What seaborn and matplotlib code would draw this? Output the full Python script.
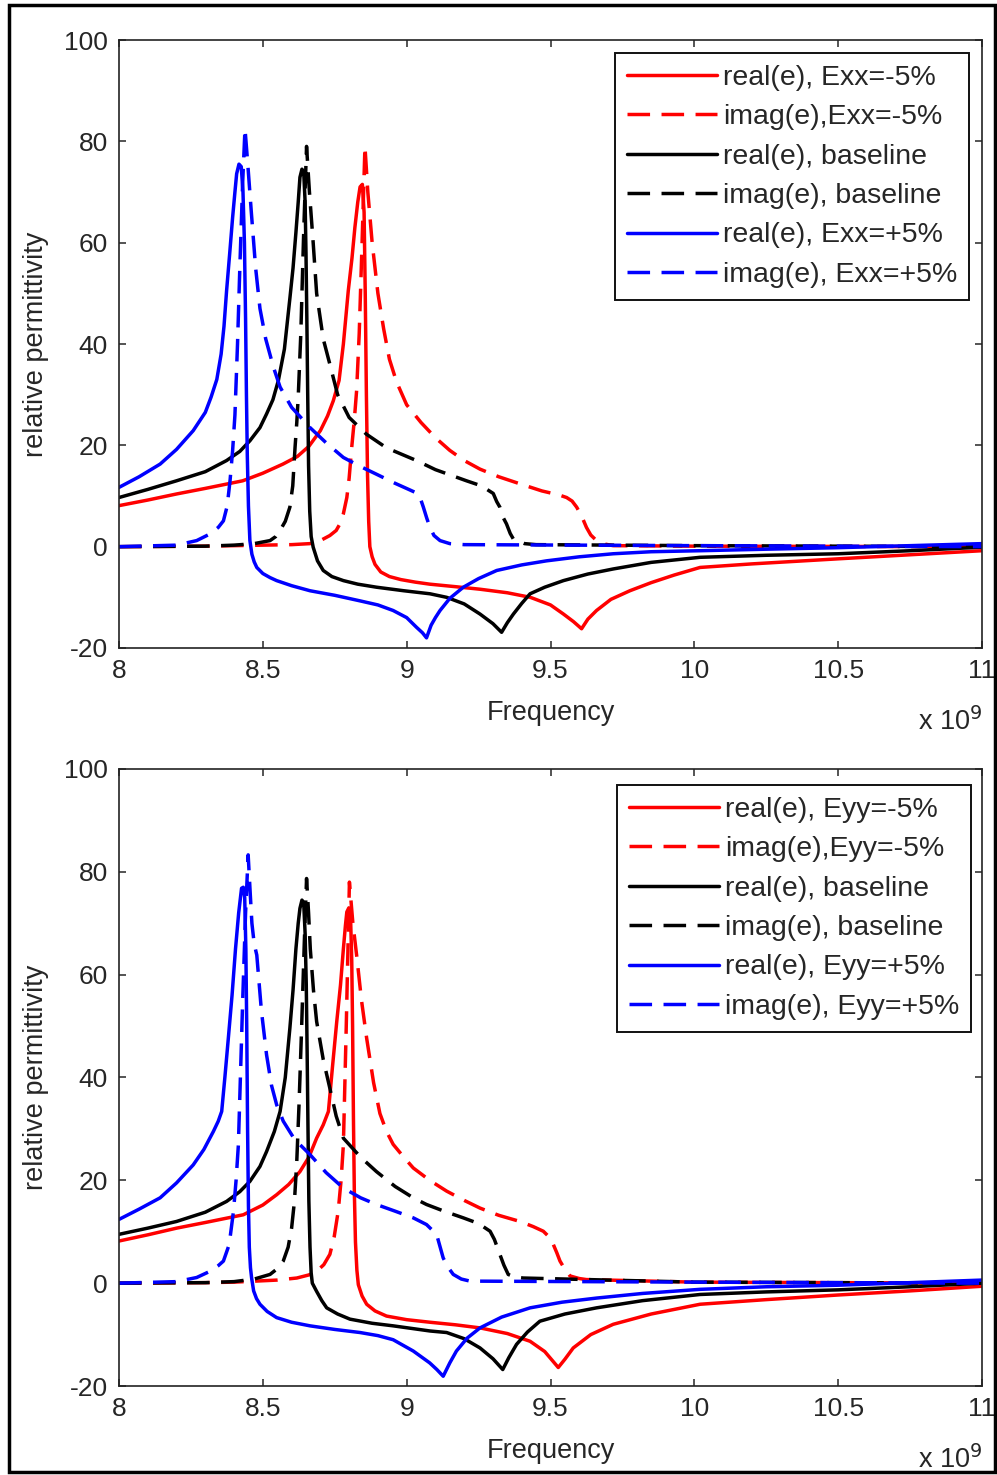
import matplotlib
matplotlib.use("Agg")
import matplotlib.pyplot as plt
import seaborn as sns
from matplotlib.patches import Rectangle

# ---------------- data (frequency in GHz, axis shows x 10^9 Hz) ----------------
# Top panel: Exx strain
exx_m5_real_f = [8.0, 8.1, 8.2, 8.3, 8.43, 8.5, 8.57, 8.62, 8.66, 8.70, 8.725, 8.745, 8.765, 8.78, 8.797, 8.81,
                 8.82, 8.83, 8.838, 8.846, 8.852, 8.856, 8.860, 8.864, 8.868, 8.872, 8.88, 8.89, 8.91, 8.94, 8.98,
                 9.03, 9.08, 9.17, 9.255, 9.35, 9.43, 9.5, 9.545, 9.58, 9.608, 9.63, 9.66, 9.71, 9.776, 9.85,
                 9.93, 10.02, 10.2, 10.5, 10.75, 11.0]
exx_m5_real_v = [8.1, 9.2, 10.4, 11.5, 13, 14.5, 16.3, 17.8, 19.8, 22.9, 25.8, 28.8, 32.8, 40, 50.5, 57,
                 63, 68, 71, 71.5, 66, 50, 30, 14, 5, 0, -2, -3.5, -5, -5.9, -6.5,
                 -7, -7.4, -7.9, -8.4, -9.1, -10, -11.5, -13.3, -14.8, -16.2, -14.3, -12.6, -10.4, -8.7, -7.1,
                 -5.6, -4.1, -3.4, -2.4, -1.6, -0.8]
exx_m5_imag_f = [8.0, 8.3, 8.5, 8.6, 8.664, 8.70, 8.733, 8.755, 8.768, 8.78, 8.792, 8.80, 8.809, 8.818, 8.826,
                 8.835, 8.845, 8.855, 8.865, 8.88, 8.9, 8.92, 8.94, 8.965, 9.0, 9.05, 9.1, 9.15, 9.2, 9.255,
                 9.32, 9.394, 9.47, 9.53, 9.556, 9.575, 9.591, 9.61, 9.625, 9.64, 9.66, 9.69, 9.718, 10.0,
                 10.5, 11.0]
exx_m5_imag_v = [0, 0.1, 0.3, 0.4, 0.6, 1.2, 2.2, 3.2, 4.5, 6.5, 9.7, 13.5, 19.6, 25, 30.8,
                 42, 60, 79, 70, 60, 50, 43, 37, 32.5, 28, 24.5, 21.5, 19, 17, 15.3,
                 13.8, 12.4, 11, 10.2, 9.7, 9, 7.8, 5.8, 3.8, 2.3, 1.2, 0.5, 0.2, 0.1,
                 0.05, 0]

exx_0_real_f = [8.0, 8.1, 8.2, 8.3, 8.374, 8.42, 8.455, 8.49, 8.513, 8.535, 8.554, 8.575, 8.594, 8.605, 8.615,
                8.623, 8.629, 8.636, 8.642, 8.647, 8.650, 8.653, 8.656, 8.659, 8.663, 8.668, 8.675, 8.69, 8.71,
                8.74, 8.78, 8.83, 8.895, 8.99, 9.081, 9.139, 9.2, 9.255, 9.3, 9.33, 9.35, 9.371, 9.4, 9.429,
                9.48, 9.545, 9.63, 9.718, 9.85, 10.02, 10.25, 10.5, 10.75, 11.0]
exx_0_real_v = [9.7, 11.3, 13, 14.8, 17, 18.8, 20.9, 23.5, 26.2, 29, 32.8, 39, 49, 55, 62,
                68, 72.9, 74.5, 74, 68, 58, 45, 30, 16, 7, 2, -0.1, -2.8, -4.7,
                -5.9, -6.7, -7.4, -8, -8.7, -9.3, -10, -11.3, -13.3, -15.2, -16.9, -15, -13.3, -11.2, -9.3,
                -8, -6.7, -5.4, -4.4, -3.1, -2.1, -1.7, -1.4, -0.8, -0.1]
exx_0_imag_f = [8.0, 8.3, 8.4, 8.47, 8.525, 8.545, 8.56, 8.578, 8.594, 8.604, 8.612, 8.618, 8.623, 8.632, 8.642,
                8.652, 8.662, 8.675, 8.687, 8.71, 8.733, 8.76, 8.8, 8.86, 8.93, 9.034, 9.1, 9.208, 9.26, 9.301,
                9.313, 9.324, 9.335, 9.347, 9.36, 9.371, 9.41, 9.45, 10.0, 10.5, 11.0]
exx_0_imag_v = [0, 0.1, 0.3, 0.6, 1.2, 2, 3.2, 5, 7.8, 12, 19.6, 24.5, 29.5, 42, 62,
                79, 70, 60, 50, 41, 36, 30, 25.5, 22.2, 19.5, 17, 15.2, 13, 12, 10.5,
                8.9, 7.8, 5.8, 4.5, 2.6, 1.5, 0.6, 0.4, 0.2, 0.1, 0]

exx_p5_real_f = [8.0, 8.07, 8.143, 8.2, 8.258, 8.3, 8.32, 8.34, 8.355, 8.365, 8.374, 8.385, 8.395, 8.403,
                 8.409, 8.417, 8.425, 8.431, 8.436, 8.44, 8.443, 8.446, 8.45, 8.455, 8.462, 8.47, 8.479, 8.5,
                 8.525, 8.548, 8.6, 8.664, 8.75, 8.838, 8.9, 8.953, 9.0, 9.034, 9.055, 9.069, 9.085, 9.1, 9.116,
                 9.15, 9.197, 9.25, 9.313, 9.4, 9.486, 9.6, 9.718, 9.85, 10.02, 10.25, 10.5, 10.75, 11.0]
exx_p5_real_v = [11.7, 13.8, 16.3, 19.2, 22.9, 26.5, 29.5, 33, 38, 43.5, 50.5, 58, 65, 70,
                 73.6, 75.5, 75, 70, 60, 45, 30, 18, 8, 1.2, -1.5, -3, -4.1, -5.3,
                 -6.1, -6.7, -7.7, -8.7, -9.6, -10.7, -11.5, -12.6, -14, -15.9, -17, -18, -15.5, -14, -12.6,
                 -10.2, -8, -6.3, -4.7, -3.6, -2.8, -2, -1.4, -1, -0.8, -0.5, -0.2, 0.2, 0.6]
exx_p5_imag_f = [8.0, 8.2, 8.27, 8.316, 8.345, 8.363, 8.376, 8.386, 8.395, 8.403, 8.412, 8.42, 8.43, 8.438,
                 8.447, 8.46, 8.475, 8.49, 8.51, 8.537, 8.56, 8.6, 8.664, 8.72, 8.78, 8.84, 8.895, 8.96, 9.011,
                 9.034, 9.046, 9.058, 9.07, 9.081, 9.095, 9.116, 9.15, 9.2, 10.0, 11.0]
exx_p5_imag_v = [0, 0.3, 1.2, 2.5, 3.8, 5.1, 8, 13, 19, 26, 40, 55, 72, 82.5,
                 76, 66, 55, 47, 41, 35.4, 31.5, 27.5, 23.5, 20.5, 17.6, 15.8, 14.3, 12.5, 11.2,
                 10.6, 9.8, 7.8, 5.6, 3.8, 2.2, 1.2, 0.6, 0.4, 0.2, 0]

# Bottom panel: Eyy strain
eyy_m5_real_f = [8.0, 8.1, 8.2, 8.3, 8.432, 8.5, 8.548, 8.59, 8.629, 8.66, 8.687, 8.71, 8.728, 8.742, 8.757,
                 8.77, 8.78, 8.787, 8.792, 8.799, 8.805, 8.809, 8.812, 8.815, 8.818, 8.822, 8.827, 8.832, 8.845,
                 8.861, 8.89, 8.93, 9.0, 9.081, 9.17, 9.255, 9.35, 9.429, 9.48, 9.527, 9.55, 9.579, 9.64, 9.718,
                 9.85, 10.02, 10.25, 10.5, 10.75, 11.0]
eyy_m5_real_v = [8.2, 9.4, 10.7, 11.8, 13.3, 15.2, 17.2, 19.2, 21.7, 24.5, 28.2, 30.8, 33.4, 42, 50.9,
                 58, 65, 69.5, 72.2, 73, 71, 63, 50, 32, 18, 8, 2.5, -0.3, -2.5,
                 -4.1, -5.4, -6.4, -7.1, -7.6, -8.1, -8.7, -9.8, -11.3, -13.3, -16.4, -14.8, -12.6, -10, -8,
                 -6, -4.1, -3.2, -2.3, -1.5, -0.6]
eyy_m5_imag_f = [8.0, 8.3, 8.4, 8.55, 8.618, 8.66, 8.687, 8.712, 8.733, 8.748, 8.762, 8.772, 8.78, 8.79, 8.801,
                 8.807, 8.813, 8.826, 8.843, 8.861, 8.885, 8.907, 8.93, 8.953, 8.99, 9.023, 9.08, 9.139, 9.2,
                 9.255, 9.32, 9.394, 9.44, 9.475, 9.495, 9.51, 9.522, 9.533, 9.55, 9.568, 9.6, 9.625, 10.0,
                 10.5, 11.0]
eyy_m5_imag_v = [0, 0.1, 0.2, 0.6, 1, 1.6, 2.3, 3.6, 5.6, 9, 14, 20, 26.9, 50, 78,
                 74, 70, 63.8, 55, 47.6, 39, 33, 29.5, 27, 24.5, 22.4, 20, 17.9, 16.1,
                 14.6, 13.2, 12, 11, 10.1, 9, 7.5, 5.9, 4.3, 2.7, 1.4, 0.9, 0.7, 0.2,
                 0.1, 0]

eyy_0_real_f = [8.0, 8.1, 8.2, 8.3, 8.374, 8.42, 8.455, 8.49, 8.513, 8.54, 8.56, 8.578, 8.594, 8.605, 8.615,
                8.623, 8.629, 8.636, 8.642, 8.647, 8.651, 8.654, 8.657, 8.66, 8.664, 8.668, 8.672, 8.687, 8.705,
                8.722, 8.76, 8.803, 8.88, 8.953, 9.081, 9.139, 9.2, 9.255, 9.3, 9.334, 9.355, 9.382, 9.42, 9.463,
                9.55, 9.66, 9.82, 10.02, 10.25, 10.5, 10.75, 11.0]
eyy_0_real_v = [9.5, 10.7, 12, 13.8, 15.9, 17.8, 19.8, 22.7, 25.6, 29.5, 33.4, 40, 49.6, 57, 65,
                70, 72.9, 74.5, 74, 68, 58, 45, 30, 16, 7, 2, 0, -1.6, -3.4,
                -4.8, -6, -7, -7.8, -8.3, -9.3, -9.6, -10.8, -12.6, -14.7, -16.8, -14.5, -11.9, -9.5, -7.4,
                -6, -4.8, -3.4, -2.2, -1.7, -1.3, -0.7, 0]
eyy_0_imag_f = [8.0, 8.3, 8.4, 8.47, 8.525, 8.55, 8.571, 8.588, 8.6, 8.61, 8.618, 8.626, 8.635, 8.644, 8.652,
                8.659, 8.665, 8.676, 8.687, 8.71, 8.733, 8.755, 8.78, 8.84, 8.895, 8.96, 9.023, 9.069, 9.13,
                9.197, 9.25, 9.29, 9.305, 9.324, 9.338, 9.353, 9.375, 9.405, 10.0, 10.5, 11.0]
eyy_0_imag_v = [0, 0.1, 0.3, 0.8, 1.7, 2.8, 4.3, 7, 10.7, 16, 23.7, 35, 50, 66, 78.7,
                72, 65, 57, 50.9, 43.5, 37.9, 32.5, 28.2, 24.5, 21.7, 18.8, 16.6, 15.3, 14,
                12.7, 11.6, 10.1, 8.5, 5.6, 3.5, 1.7, 1.2, 1, 0.2, 0.1, 0]

eyy_p5_real_f = [8.0, 8.07, 8.143, 8.2, 8.258, 8.295, 8.328, 8.345, 8.357, 8.368, 8.38, 8.393, 8.405, 8.416,
                 8.426, 8.432, 8.437, 8.441, 8.444, 8.447, 8.45, 8.453, 8.457, 8.461, 8.468, 8.478, 8.49, 8.515,
                 8.548, 8.6, 8.664, 8.75, 8.838, 8.9, 8.953, 9.023, 9.08, 9.105, 9.127, 9.15, 9.173, 9.21, 9.255,
                 9.33, 9.429, 9.54, 9.66, 9.82, 10.02, 10.25, 10.5, 10.75, 11.0]
eyy_p5_real_v = [12.4, 14.4, 16.6, 19.5, 23, 26, 29.5, 31.5, 33.4, 40, 47.6, 56, 65, 72,
                 76.8, 77, 75, 65, 50, 30, 15, 7, 3, 1, -1.5, -3, -4.1, -5.5,
                 -6.7, -7.6, -8.3, -9, -9.6, -10.2, -11, -13.2, -15.5, -16.8, -18.1, -15.5, -13.2, -10.7, -8.7,
                 -6.6, -4.8, -3.7, -2.9, -2, -1.2, -0.7, -0.4, 0.1, 0.6]
eyy_p5_imag_f = [8.0, 8.2, 8.27, 8.316, 8.345, 8.363, 8.383, 8.398, 8.407, 8.415, 8.422, 8.43, 8.44, 8.449,
                 8.456, 8.462, 8.47, 8.479, 8.495, 8.513, 8.53, 8.548, 8.571, 8.61, 8.664, 8.72, 8.78, 8.84,
                 8.895, 8.96, 9.023, 9.069, 9.104, 9.115, 9.127, 9.145, 9.162, 9.19, 9.22, 10.0, 11.0]
eyy_p5_imag_v = [0, 0.3, 1.1, 2.3, 3.4, 4.3, 7.5, 14, 20, 26.9, 40, 55, 72, 83.3,
                 76, 70, 66, 63.8, 53, 44.4, 38.5, 34.7, 31.5, 28, 25, 21.5, 18.5, 16.6,
                 15.3, 14, 12.7, 11.4, 9.5, 7.3, 4.9, 3, 1.7, 0.8, 0.4, 0.2, 0]

top_labels = ["real(e), Exx=-5%", "imag(e),Exx=-5%", "real(e), baseline",
              "imag(e), baseline", "real(e), Exx=+5%", "imag(e), Exx=+5%"]
bottom_labels = ["real(e), Eyy=-5%", "imag(e),Eyy=-5%", "real(e), baseline",
                 "imag(e), baseline", "real(e), Eyy=+5%", "imag(e), Eyy=+5%"]
x_ticks = [8, 8.5, 9, 9.5, 10, 10.5, 11]
x_tick_labels = ["8", "8.5", "9", "9.5", "10", "10.5", "11"]
y_ticks = [-20, 0, 20, 40, 60, 80, 100]

top_series = [(exx_m5_real_f, exx_m5_real_v), (exx_m5_imag_f, exx_m5_imag_v),
              (exx_0_real_f, exx_0_real_v), (exx_0_imag_f, exx_0_imag_v),
              (exx_p5_real_f, exx_p5_real_v), (exx_p5_imag_f, exx_p5_imag_v)]
bottom_series = [(eyy_m5_real_f, eyy_m5_real_v), (eyy_m5_imag_f, eyy_m5_imag_v),
                 (eyy_0_real_f, eyy_0_real_v), (eyy_0_imag_f, eyy_0_imag_v),
                 (eyy_p5_real_f, eyy_p5_real_v), (eyy_p5_imag_f, eyy_p5_imag_v)]

colors = ["#ff0000", "#ff0000", "#000000", "#000000", "#0000ff", "#0000ff"]
dashed = [False, True, False, True, False, True]

# ---------------- style ----------------
sns.set_theme(style="ticks")
plt.rcParams['font.family'] = ['Liberation Sans', 'DejaVu Sans']
plt.rcParams['axes.unicode_minus'] = False
plt.rcParams['axes.edgecolor'] = '#222222'
plt.rcParams['axes.linewidth'] = 1.2

fig = plt.figure(figsize=(9.97, 14.75), dpi=100)
W, H = 997, 1475
ax1 = fig.add_axes([119 / W, 1 - 648 / H, 863 / W, 608 / H])
ax2 = fig.add_axes([119 / W, 1 - 1386 / H, 863 / W, 617 / H])

TXT = '#262626'


def draw(ax, series, labels, leg_anchor, ax_h):
    for (f, v), c, d, lab in zip(series, colors, dashed, labels):
        ls = (0, (6.5, 3.3)) if d else '-'
        sns.lineplot(x=f, y=v, ax=ax, color=c, linestyle=ls, linewidth=2.5,
                     label=lab, estimator=None, sort=False)
    ax.set_xlim(8, 11)
    ax.set_ylim(-20, 100)
    ax.set_xticks(x_ticks)
    ax.set_xticklabels(x_tick_labels)
    ax.set_yticks(y_ticks)
    ax.tick_params(direction='in', top=True, right=True, length=5, width=1.1,
                   labelsize=19, colors=TXT, pad=8)
    for s in ax.spines.values():
        s.set_visible(True)
        s.set_color('#222222')
    ax.set_xlabel("Frequency", fontsize=19.5, color=TXT, labelpad=12)
    ax.set_ylabel("relative permittivity", fontsize=19.5, color=TXT, labelpad=11)
    ax.text(1.0, -(60 / ax_h), r"x 10$^{9}$", transform=ax.transAxes, ha='right', va='top',
            fontsize=19.5, color=TXT)
    handles, labs = ax.get_legend_handles_labels()
    leg = ax.legend(handles, labs, loc='upper right', bbox_to_anchor=leg_anchor,
                    borderaxespad=0, fontsize=20.5, frameon=True, fancybox=False,
                    framealpha=1, edgecolor='#111111', handlelength=3.15,
                    handletextpad=0.2, labelspacing=0.47, borderpad=0.42)
    leg.get_frame().set_linewidth(1.4)
    for t in leg.get_texts():
        t.set_color(TXT)


draw(ax1, top_series, top_labels, ((969 - 119) / 863, (648 - 53) / 608), 608)
draw(ax2, bottom_series, bottom_labels, ((971 - 119) / 863, (1386 - 785) / 617), 617)

fig.patches.append(Rectangle((9 / W, 1 - 1472 / H), (995 - 9) / W, (1472 - 5) / H,
                             transform=fig.transFigure, fill=False, edgecolor='black',
                             linewidth=2.5))

fig.savefig("out.png", dpi=100)
